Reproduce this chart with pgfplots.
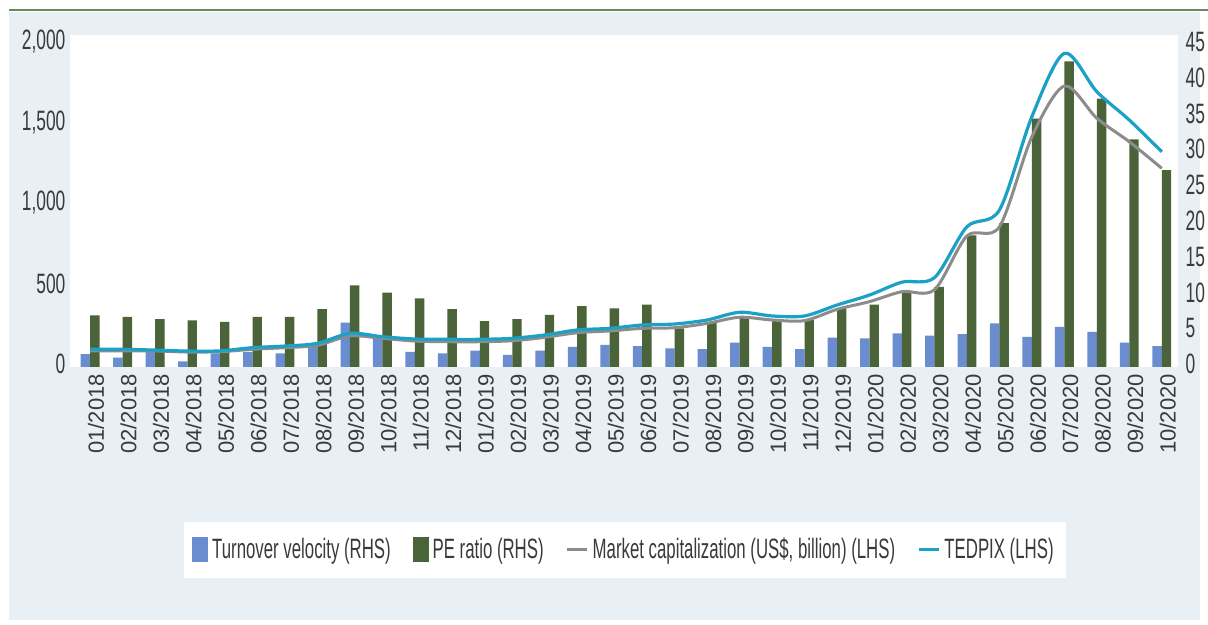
\documentclass[border=0pt]{standalone}
\usepackage{pgfplots}
\pgfplotsset{compat=1.18}
\usepackage{pgfplotstable}
\usepackage{fontspec}
\setmainfont{Liberation Sans}
\newfontfamily\cond[FakeStretch=0.62]{Liberation Sans}
\newfontfamily\condl[FakeStretch=0.6]{Liberation Sans}
\definecolor{bgc}{HTML}{E8EFF5}
\definecolor{tvblue}{HTML}{6A8DCF}
\definecolor{pegreen}{HTML}{4A6339}
\definecolor{mcgray}{HTML}{8C8C8C}
\definecolor{tedcyan}{HTML}{1BA1C5}
\definecolor{topline}{HTML}{6A8A5C}
\definecolor{txt}{HTML}{3A3A3A}

\pgfplotstableread{
idx tv pe mcap ted
0 1.8 7.2 100 110
1 1.3 7.0 100 110
2 2.3 6.7 100 105
3 0.8 6.5 93 99
4 1.9 6.3 95 100
5 2.1 7.0 110 120
6 1.9 7.0 120 130
7 3.2 8.1 135 147
8 6.2 11.4 193 209
9 4.0 10.4 178 188
10 2.1 9.6 161 174
11 1.9 8.1 157 172
12 2.3 6.4 157 172
13 1.7 6.7 163 178
14 2.3 7.3 184 199
15 2.8 8.5 213 230
16 3.1 8.2 224 240
17 2.9 8.7 240 261
18 2.6 5.4 244 267
19 2.5 6.3 271 292
20 3.4 7.0 309 340
21 2.8 6.7 292 317
22 2.5 6.6 288 317
23 4.1 8.2 358 385
24 4.0 8.7 406 447
25 4.7 10.5 468 527
26 4.4 11.2 480 555
27 4.6 18.4 814 871
28 6.1 20.1 871 975
29 4.2 34.7 1430 1555
30 5.6 42.7 1745 1948
31 4.9 37.5 1545 1710
32 3.4 31.8 1399 1534
33 2.9 27.5 1234 1337
}\datatable

\begin{document}
\begin{tikzpicture}
\path[use as bounding box] (-35pt,-129pt) rectangle (569pt,183.5pt);
\fill[bgc] (-30.5pt,-126.5pt) rectangle (565pt,177.5pt);
\draw[topline, line width=1.2pt] (-30.5pt,178.5pt) -- (569pt,178.5pt);
\fill[white] (0,0) rectangle (554pt,166pt);

% bars, right axis
\begin{axis}[
  at={(0,0)}, anchor=south west,
  scale only axis, width=554pt, height=161pt,
  xmin=-0.62, xmax=33.5, ymin=0, ymax=45,
  axis y line*=right, axis x line*=bottom,
  axis line style={draw=none},
  major tick length=0pt,
  tick style={draw=none},
  ytick={0,5,...,45},
  yticklabel style={font=\cond\fontsize{14}{14}\selectfont, text=txt, anchor=west, xshift=0.3pt, yshift=1.5pt},
  xtick={0,...,33},
  xticklabels={01/2018,02/2018,03/2018,04/2018,05/2018,06/2018,07/2018,08/2018,09/2018,10/2018,11/2018,12/2018,01/2019,02/2019,03/2019,04/2019,05/2019,06/2019,07/2019,08/2019,09/2019,10/2019,11/2019,12/2019,01/2020,02/2020,03/2020,04/2020,05/2020,06/2020,07/2020,08/2020,09/2020,10/2020},
  xticklabel style={rotate=90, anchor=east, font=\fontsize{11}{11}\selectfont, text=txt, yshift=-3pt},
  /pgf/number format/assume math mode=true,
  clip=false,
]
\addplot[ybar, bar width=0.29, bar shift=-0.145, fill=tvblue, draw=none] table[x=idx, y=tv] {\datatable};
\addplot[ybar, bar width=0.29, bar shift=0.145, fill=pegreen, draw=none] table[x=idx, y=pe] {\datatable};
\end{axis}

% lines, left axis
\begin{axis}[
  at={(0,0)}, anchor=south west,
  scale only axis, width=554pt, height=161pt,
  xmin=-0.62, xmax=33.5, ymin=0, ymax=2000,
  axis y line*=left, axis x line=none,
  axis line style={draw=none},
  major tick length=0pt,
  tick style={draw=none},
  ytick={0,500,...,2000},
  yticklabel style={font=\cond\fontsize{14}{14}\selectfont, text=txt, anchor=east, xshift=1.2pt, yshift=1.5pt},
  /pgf/number format/.cd, 1000 sep={,}, assume math mode=true,
  /pgfplots/.cd,
  legend columns=4,
  legend style={
    at={(0.5009,-0.568)}, anchor=center,
    fill=white, draw=none,
    font=\condl\fontsize{14}{14}\selectfont, text=txt,
    inner xsep=4pt, inner ysep=6pt,
    /tikz/every even column/.append style={column sep=9pt},
  },
  legend cell align=left,
]
\addlegendimage{legend image code/.code={\fill[tvblue] (2pt,-6pt) rectangle (9.5pt,6pt);}}
\addlegendentry{Turnover velocity (RHS)}
\addlegendimage{legend image code/.code={\fill[pegreen] (2pt,-6pt) rectangle (9.5pt,6pt);}}
\addlegendentry{PE ratio (RHS)}
\addplot[mcgray, line width=1.5pt, smooth, tension=0.5, mark=none,
  legend image code/.code={\draw[mcgray, line width=1.5pt] (0pt,0pt) -- (10pt,0pt);}]
  table[x=idx, y=mcap] {\datatable};
\addlegendentry{Market capitalization (US\$, billion) (LHS)}
\addplot[tedcyan, line width=1.6pt, smooth, tension=0.5, mark=none,
  legend image code/.code={\draw[tedcyan, line width=1.6pt] (0pt,0pt) -- (10pt,0pt);}]
  table[x=idx, y=ted] {\datatable};
\addlegendentry{TEDPIX (LHS)}
\end{axis}
\end{tikzpicture}
\end{document}
